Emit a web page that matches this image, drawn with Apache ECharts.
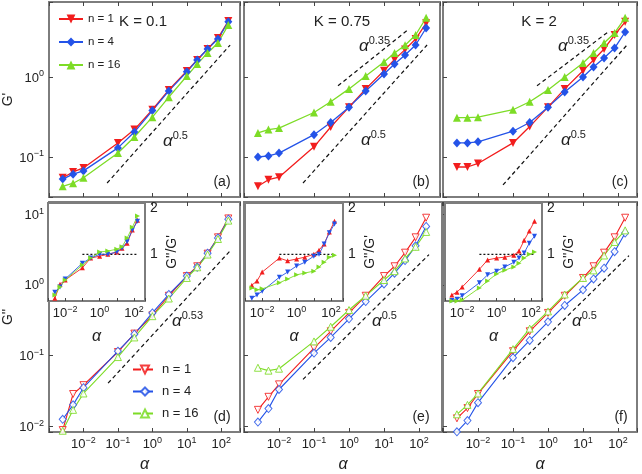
<!DOCTYPE html>
<html><head><meta charset="utf-8">
<script src="https://cdn.jsdelivr.net/npm/echarts@6.0.0/dist/echarts.min.js"></script>
<style>html,body{margin:0;padding:0;background:#fff}#c{width:642px;height:474px}</style>
</head><body><div id="c"></div><script>
// ---------- data ----------
const alpha = [0.0025, 0.005, 0.01, 0.1, 0.3, 1, 3, 10, 20, 40, 80, 160];

// (a) K = 0.1, G'
const gpA_n1  = [0.055, 0.065, 0.073, 0.15, 0.22, 0.39, 0.69, 1.19, 1.63, 2.24, 3.07, 5.0];
const gpA_n4  = [0.053, 0.061, 0.067, 0.13, 0.205, 0.38, 0.67, 1.16, 1.63, 2.24, 2.98, 4.9];
const gpA_n16 = [0.043, 0.047, 0.055, 0.112, 0.178, 0.315, 0.56, 1.03, 1.45, 2.0, 2.66, 4.47];
// (b) K = 0.75, G'
const gpB_n1  = [0.043, 0.052, 0.056, 0.134, 0.237, 0.42, 0.71, 1.2, 1.66, 2.2, 2.98, 4.7];
const gpB_n4  = [0.1, 0.103, 0.112, 0.19, 0.27, 0.42, 0.67, 1.09, 1.45, 1.88, 2.51, 4.1];
const gpB_n16 = [0.2, 0.22, 0.23, 0.36, 0.49, 0.71, 1.03, 1.54, 2.0, 2.5, 3.35, 5.5];
// (c) K = 2, G'
const gpC_n1  = [0.075, 0.075, 0.083, 0.15, 0.24, 0.42, 0.71, 1.2, 1.63, 2.24, 3.35, 4.9];
const gpC_n4  = [0.15, 0.15, 0.155, 0.21, 0.27, 0.42, 0.65, 1.0, 1.33, 1.73, 2.3, 3.65];
const gpC_n16 = [0.31, 0.31, 0.315, 0.39, 0.49, 0.69, 1.0, 1.5, 2.0, 2.66, 3.55, 5.5];
// (d) K = 0.1, G''
const gppD_n1  = [0.0088, 0.0285, 0.038, 0.112, 0.204, 0.37, 0.7, 1.33, 1.83, 2.76, 4.7, 8.7];
const gppD_n4  = [0.0125, 0.02, 0.035, 0.115, 0.2, 0.4, 0.73, 1.33, 1.78, 2.8, 4.6, 8.5];
const gppD_n16 = [0.0086, 0.017, 0.029, 0.095, 0.18, 0.36, 0.64, 1.25, 1.77, 2.68, 4.45, 8.1];
// (e) K = 0.75, G''
const gppE_n1  = [0.017, 0.026, 0.039, 0.127, 0.22, 0.4, 0.7, 1.33, 1.83, 2.85, 4.7, 8.9];
const gppE_n4  = [0.0114, 0.0177, 0.033, 0.108, 0.18, 0.33, 0.58, 1.03, 1.46, 2.2, 3.56, 6.7];
const gppE_n16 = [0.067, 0.061, 0.065, 0.158, 0.255, 0.44, 0.7, 1.17, 1.56, 2.36, 3.45, 5.6];
// (f) K = 2, G''
const gppF_n1  = [0.0129, 0.018, 0.0285, 0.115, 0.22, 0.4, 0.7, 1.25, 1.83, 2.85, 4.7, 8.9];
const gppF_n4  = [0.0083, 0.012, 0.0215, 0.093, 0.163, 0.3, 0.51, 0.85, 1.21, 1.72, 2.94, 5.4];
const gppF_n16 = [0.0147, 0.02, 0.029, 0.123, 0.24, 0.42, 0.73, 1.25, 1.6, 2.6, 4.04, 5.9];
// insets G''/G'
const ratioD_n1  = [0.06, 0.36, 0.45, 0.71, 0.92, 0.96, 1.0, 1.05, 1.13, 1.24, 1.52, 1.73];
const ratioD_n4  = [0.19, 0.3, 0.47, 0.81, 0.92, 1.0, 1.0, 1.05, 1.13, 1.27, 1.52, 1.71];
const ratioD_n16 = [0.13, 0.3, 0.45, 0.77, 0.92, 1.05, 1.07, 1.11, 1.16, 1.35, 1.58, 1.82];
const ratioE_n1  = [0.34, 0.43, 0.62, 0.92, 0.86, 0.9, 0.94, 1.0, 1.09, 1.22, 1.48, 1.71];
const ratioE_n4  = [0.06, 0.13, 0.21, 0.51, 0.62, 0.75, 0.83, 0.96, 1.0, 1.22, 1.46, 1.65];
const ratioE_n16 = [0.28, 0.24, 0.26, 0.39, 0.47, 0.56, 0.6, 0.64, 0.73, 0.83, 0.94, 0.98];
const ratioF_n1  = [0.13, 0.19, 0.3, 0.68, 0.88, 0.92, 0.94, 0.98, 1.07, 1.3, 1.5, 1.71];
const ratioF_n4  = [0.01, 0.04, 0.11, 0.39, 0.56, 0.64, 0.73, 0.83, 0.92, 1.03, 1.24, 1.39];
const ratioF_n16 = [0.0, 0.0, 0.02, 0.28, 0.43, 0.58, 0.66, 0.73, 0.81, 0.92, 1.0, 1.05];

// guide lines (power laws), endpoints in data units
const guideA_x = [0.0485, 180.7],  guideA_y = [0.0473, 2.51];
const guideB_x = [0.0485, 170],    guideB_y = [0.0473, 2.51];
const guideB2_x = [0.485, 48.5],   guideB2_y = [0.776, 3.89];
const guideC_x = [0.0518, 180.7],  guideC_y = [0.0447, 2.51];
const guideC2_x = [0.485, 51.8],   guideC2_y = [0.776, 3.65];
const guideD_x = [0.0518, 193],    guideD_y = [0.0405, 3.14];
const guideE_x = [0.0485, 193],    guideE_y = [0.0459, 2.68];
const guideF_x = [0.0518, 206],    guideF_y = [0.0459, 2.59];
const unity_x = [0.1, 170], unity_y = [1, 1];

const legendNames = ['n = 1', 'n = 4', 'n = 16'];
const legendNamesB = ['n = 1 ', 'n = 4 ', 'n = 16 '];

// ---------- styling ----------
const FONT = '"Liberation Sans", Arial, sans-serif';
const RED = '#f21d1d', BLUE = '#2453e8', GREEN = '#7ddc26';
const downTri = 'path://M0,0L10,0L5,9Z';
const rightTri = 'path://M0,0L9,5L0,10Z';
const MINUS = '\u2212';

const grids = [
  {left: 46, top: 2, width: 194, height: 195},
  {left: 244, top: 2, width: 196, height: 195},
  {left: 443, top: 2, width: 194, height: 195},
  {left: 46, top: 202, width: 194, height: 236},
  {left: 244, top: 202, width: 198, height: 236},
  {left: 443, top: 202, width: 194, height: 236},
  {left: 48, top: 203, width: 97, height: 98},
  {left: 245, top: 203, width: 98, height: 98},
  {left: 445, top: 203, width: 97, height: 98}
];

function expOf(v) { const l = Math.log10(v); const e = Math.round(l); return Math.abs(l - e) < 1e-6 ? e : null; }
function powLabel(e) { return '{b|10}{s|' + (e < 0 ? MINUS + (-e) : e) + '}'; }
const richLab = {
  b: {fontSize: 13, fontFamily: FONT, color: '#222', verticalAlign: 'bottom'},
  s: {fontSize: 9, fontFamily: FONT, color: '#222', verticalAlign: 'bottom', padding: [0, 0, 6, 0]}
};

const xAxes = [], yAxes = [];
grids.forEach((g, i) => {
  const inset = i >= 6;
  const bottomRow = i >= 3 && i < 6;
  const pxPerDec = inset ? 17.2 : 35;
  const xmax = Math.pow(10, -3 + g.width / pxPerDec);
  const xa = {
    type: 'log', gridIndex: i, min: 0.001, max: xmax, logBase: 10, z: inset ? 12 : 2,
    axisLine: {show: false}, splitLine: {show: false}, minorTick: {show: false},
    axisTick: {show: true, inside: true, length: inset ? 3 : 4, lineStyle: {color: '#444'}},
    axisLabel: {show: bottomRow || inset, margin: 4, rich: richLab,
      formatter: v => { const e = expOf(v); if (e === null || e < -2 || e > 2) return ''; if (inset && e % 2 !== 0) return ''; return powLabel(e); }}
  };
  if (bottomRow || inset) {
    xa.name = 'α'; xa.nameLocation = 'middle'; xa.nameGap = inset ? 28 : 25;
    xa.nameTextStyle = {fontFamily: FONT, fontStyle: 'italic', fontSize: 16, color: '#222'};
  }
  xAxes.push(xa);
  if (!inset) {
    xAxes.push({type: 'log', gridIndex: i, position: 'top', min: 0.001, max: xmax,
      axisLine: {show: false}, splitLine: {show: false}, axisLabel: {show: false},
      axisTick: {show: true, inside: true, length: 4, lineStyle: {color: '#444'}}});
  }
  if (inset) {
    yAxes.push({type: 'value', gridIndex: i, position: 'right', min: 0, max: 2.1, interval: 1, z: 12,
      axisLine: {show: false}, splitLine: {show: false},
      axisTick: {show: false},
      axisLabel: {margin: 5, fontSize: 14, fontFamily: FONT, color: '#222', formatter: v => v === 0 ? '' : String(v)},
      name: "G''/G'", nameLocation: 'middle', nameGap: 20, nameRotate: 90,
      nameTextStyle: {fontFamily: FONT, fontSize: 14, color: '#222'}});
  } else {
    const top = i < 3;
    const ya = {type: 'log', gridIndex: i, logBase: 10,
      min: top ? Math.pow(10, -1.5) : Math.pow(10, -2.083),
      max: top ? Math.pow(10, 0.9375) : Math.pow(10, 1.172),
      axisLine: {show: false}, splitLine: {show: false},
      axisTick: {show: true, inside: true, length: 4, lineStyle: {color: '#444'}},
      axisLabel: {show: i === 0 || i === 3, margin: 5, rich: richLab,
        formatter: v => { const e = expOf(v); return e === null ? '' : powLabel(e); }}};
    if (i === 0 || i === 3) {
      ya.name = i === 0 ? "G'" : "G''"; ya.nameLocation = 'middle'; ya.nameGap = 34; ya.nameRotate = 90;
      ya.nameTextStyle = {fontFamily: FONT, fontSize: 14, color: '#222'};
    }
    yAxes.push(ya);
  }
});
// x axis index of the bottom axis for each grid
const xIdx = [0, 2, 4, 6, 8, 10, 12, 13, 14];

const series = [];
function add(name, gi, ys, color, symbol, kind) {
  const s = {type: 'line', name, xAxisIndex: xIdx[gi], yAxisIndex: gi,
    data: alpha.map((a, k) => [a, ys[k]]),
    symbol, showSymbol: true, animation: false, z: gi >= 6 ? 12 : 3,
    lineStyle: {color, width: 1.3}};
  if (kind === 'filled') { s.symbolSize = symbol === 'diamond' ? [8, 9] : 8; s.itemStyle = {color}; }
  else if (kind === 'open') { s.symbolSize = symbol === 'diamond' ? [7, 8] : 7; s.lineStyle.width = 1.1; s.itemStyle = {color: '#ffffff', borderColor: color, borderWidth: 1, opacity: 0.85}; }
  else { s.symbolSize = 5; s.lineStyle.width = 0.9; s.itemStyle = {color}; }
  series.push(s);
}
function guide(gi, xs, ys, dash) {
  series.push({type: 'line', xAxisIndex: xIdx[gi], yAxisIndex: gi, symbol: 'none', animation: false, silent: true, z: gi >= 6 ? 11 : 2,
    data: [[xs[0], ys[0]], [xs[1], ys[1]]],
    lineStyle: {color: '#111', width: 1.2, type: dash}});
}

add(legendNames[0], 0, gpA_n1, RED, downTri, 'filled');
add(legendNames[1], 0, gpA_n4, BLUE, 'diamond', 'filled');
add(legendNames[2], 0, gpA_n16, GREEN, 'triangle', 'filled');
add(legendNames[0], 1, gpB_n1, RED, downTri, 'filled');
add(legendNames[1], 1, gpB_n4, BLUE, 'diamond', 'filled');
add(legendNames[2], 1, gpB_n16, GREEN, 'triangle', 'filled');
add(legendNames[0], 2, gpC_n1, RED, downTri, 'filled');
add(legendNames[1], 2, gpC_n4, BLUE, 'diamond', 'filled');
add(legendNames[2], 2, gpC_n16, GREEN, 'triangle', 'filled');
add(legendNamesB[0], 3, gppD_n1, RED, downTri, 'open');
add(legendNamesB[1], 3, gppD_n4, BLUE, 'diamond', 'open');
add(legendNamesB[2], 3, gppD_n16, GREEN, 'triangle', 'open');
add(legendNamesB[0], 4, gppE_n1, RED, downTri, 'open');
add(legendNamesB[1], 4, gppE_n4, BLUE, 'diamond', 'open');
add(legendNamesB[2], 4, gppE_n16, GREEN, 'triangle', 'open');
add(legendNamesB[0], 5, gppF_n1, RED, downTri, 'open');
add(legendNamesB[1], 5, gppF_n4, BLUE, 'diamond', 'open');
add(legendNamesB[2], 5, gppF_n16, GREEN, 'triangle', 'open');
add('r1', 6, ratioD_n1, RED, 'triangle', 'small');
add('r4', 6, ratioD_n4, BLUE, downTri, 'small');
add('r16', 6, ratioD_n16, GREEN, rightTri, 'small');
add('r1', 7, ratioE_n1, RED, 'triangle', 'small');
add('r4', 7, ratioE_n4, BLUE, downTri, 'small');
add('r16', 7, ratioE_n16, GREEN, rightTri, 'small');
add('r1', 8, ratioF_n1, RED, 'triangle', 'small');
add('r4', 8, ratioF_n4, BLUE, downTri, 'small');
add('r16', 8, ratioF_n16, GREEN, rightTri, 'small');

guide(0, guideA_x, guideA_y, [4, 3]);
guide(1, guideB_x, guideB_y, [4, 3]);
guide(1, guideB2_x, guideB2_y, [4, 3]);
guide(2, guideC_x, guideC_y, [4, 3]);
guide(2, guideC2_x, guideC2_y, [4, 3]);
guide(3, guideD_x, guideD_y, [4, 3]);
guide(4, guideE_x, guideE_y, [4, 3]);
guide(5, guideF_x, guideF_y, [4, 3]);
guide(6, unity_x, unity_y, [2, 2]);
guide(7, unity_x, unity_y, [2, 2]);
guide(8, unity_x, unity_y, [2, 2]);

// ---------- annotations ----------
function txt(text, x, y, size) {
  return {type: 'text', x, y, z: 20, style: {text, fontFamily: FONT, fontSize: size, fill: '#222', align: 'center', verticalAlign: 'middle'}};
}
function powTxt(p, x, y) {
  return {type: 'text', x, y, z: 20, style: {text: '{a|α}{s|' + p + '}', align: 'left', verticalAlign: 'middle',
    rich: {a: {fontFamily: FONT, fontStyle: 'italic', fontSize: 17, fill: '#222', verticalAlign: 'bottom'},
           s: {fontFamily: FONT, fontSize: 11, fill: '#222', verticalAlign: 'bottom', padding: [0, 0, 9, 0]}}}};
}
const graphic = [
  txt('K = 0.1', 143, 22, 15), txt('K = 0.75', 342, 22, 15), txt('K = 2', 539, 22, 15),
  txt('(a)', 222, 182, 14), txt('(b)', 421, 182, 14), txt('(c)', 620, 182, 14),
  txt('(d)', 222, 417, 14), txt('(e)', 421, 417, 14), txt('(f)', 621, 417, 14),
  powTxt('0.5', 163, 140), powTxt('0.35', 359, 45), powTxt('0.5', 361, 139),
  powTxt('0.35', 558, 45), powTxt('0.5', 561, 139),
  powTxt('0.53', 172, 320), powTxt('0.5', 372, 320), powTxt('0.5', 572, 320)
];

const option = {
  animation: false,
  backgroundColor: '#ffffff',
  grid: grids.map((g, i) => Object.assign({show: true, borderColor: '#7d7d7d', borderWidth: 2,
    backgroundColor: i >= 6 ? '#ffffff' : 'transparent', z: i >= 6 ? 5 : 0}, g)),
  xAxis: xAxes,
  yAxis: yAxes,
  legend: [
    {data: legendNames, left: 53, top: 8, orient: 'vertical', itemWidth: 24, itemHeight: 11, itemGap: 11,
     textStyle: {fontFamily: FONT, fontSize: 11.5, color: '#222'}, selectedMode: false},
    {data: legendNamesB, left: 127, top: 358, orient: 'vertical', itemWidth: 24, itemHeight: 10, itemGap: 9,
     lineStyle: {type: 'dashed'}, textStyle: {fontFamily: FONT, fontSize: 13, color: '#222'}, selectedMode: false}
  ],
  series,
  graphic
};
const chart = echarts.init(document.getElementById('c'), null, {renderer: 'canvas'});
chart.setOption(option);
</script></body></html>
